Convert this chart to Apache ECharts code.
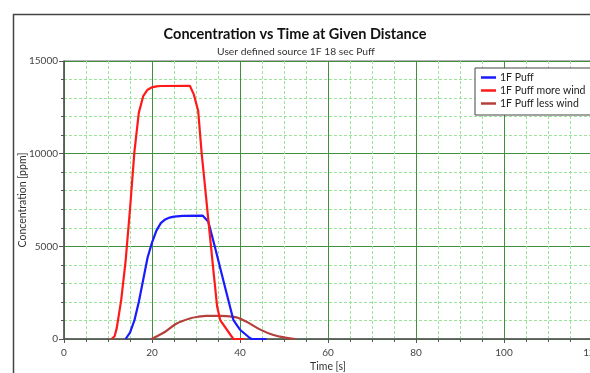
<!DOCTYPE html>
<html>
<head>
<meta charset="utf-8">
<script src="https://cdn.jsdelivr.net/npm/echarts@6/dist/echarts.min.js"></script>
<style>
  html, body { margin: 0; padding: 0; background: #fff; }
  #chart { width: 590px; height: 373px; }
</style>
</head>
<body>
<div id="chart"></div>
<script>
// 1F Puff (blue)
const puffTime = [14, 15, 16, 17, 18, 19, 20, 21, 22, 23, 24, 25, 27, 31.5, 32.8, 34.3, 36.2, 38.5, 40, 41.9, 42.6, 46]
const puffConc = [0, 350, 1000, 2000, 3200, 4400, 5200, 5850, 6250, 6450, 6550, 6600, 6640, 6660, 6330, 4960, 3170, 1020, 500, 120, 0, 0]

// 1F Puff more wind (red)
const moreTime = [10.8, 11.5, 12, 13, 14, 15, 16, 17, 18, 19, 20, 21, 22, 28.6, 29.5, 30.5, 31.3, 32, 33, 34, 34.8, 35.5, 38.5, 41]
const moreConc = [0, 150, 600, 2100, 4200, 7000, 10100, 12200, 13100, 13450, 13580, 13630, 13650, 13660, 13200, 12300, 9980, 8350, 5950, 3600, 1750, 1020, 0, 0]

// 1F Puff less wind (dark red)
const lessTime = [19.9, 21, 23, 25.6, 28.6, 30.5, 32.4, 35.5, 37, 39.2, 41.5, 44.5, 47.6, 50.6, 52.5]
const lessConc = [0, 130, 390, 840, 1110, 1200, 1250, 1250, 1230, 1170, 930, 520, 215, 60, 0]

const seriesNames = ['1F Puff', '1F Puff more wind', '1F Puff less wind']
const seriesColors = ['#1a1aff', '#ff1a1a', '#b4403c']

const xTicks = { min: 0, max: 120, interval: 20 }
const yTicks = { min: 0, max: 15000, interval: 5000 }

const pairs = (ts, cs) => ts.map((t, i) => [t, cs[i]])

const chart = echarts.init(document.getElementById('chart'))

const fontFamily = 'Lato, "Open Sans", sans-serif'

chart.setOption({
  animation: false,
  textStyle: { fontFamily },
  title: [
    {
      text: 'Concentration vs Time at Given Distance',
      left: 290,
      top: 22,
      textAlign: 'center',
      textStyle: { fontSize: 14.5, fontWeight: 'bold', color: '#111', fontFamily },
    },
    {
      text: 'User defined source 1F 18 sec Puff',
      left: 291,
      top: 42,
      textAlign: 'center',
      textStyle: { fontSize: 10.3, fontWeight: 'normal', color: '#333', fontFamily },
    },
  ],
  graphic: [
    {
      type: 'rect',
      left: 11,
      top: 12,
      shape: { width: 620, height: 400 },
      style: { fill: 'none', stroke: '#444', lineWidth: 1.5 },
      silent: true,
    },
  ],
  legend: {
    data: seriesNames,
    orient: 'vertical',
    left: 475,
    top: 68,
    icon: 'rect',
    itemWidth: 15,
    itemHeight: 2.5,
    itemGap: 2,
    padding: [4, 7, 6, 6],
    borderColor: '#444',
    borderWidth: 1,
    backgroundColor: '#fff',
    textStyle: { fontSize: 10.5, color: '#222', fontFamily, padding: [0, 0, 0, -1] },
  },
  grid: {
    left: 64,
    top: 61,
    width: 528,
    height: 278,
    outerBoundsMode: 'none',
    show: true,
    backgroundColor: '#fff',
    borderColor: '#666',
    borderWidth: 1,
  },
  xAxis: {
    type: 'value',
    min: xTicks.min,
    max: xTicks.max,
    interval: xTicks.interval,
    name: 'Time [s]',
    nameLocation: 'middle',
    nameGap: 22,
    nameMoveOverlap: false,
    nameTextStyle: { fontSize: 10.5, color: '#333' },
    axisLine: { show: true, lineStyle: { color: '#555', width: 1.5 } },
    axisTick: { show: true, length: 4, lineStyle: { color: '#555' } },
    minorTick: { show: true, splitNumber: 4, length: 3, lineStyle: { color: '#555' } },
    axisLabel: { fontSize: 10, color: '#444', margin: 9 },
    splitLine: { show: true, lineStyle: { color: '#3f8f3f', width: 1 } },
    minorSplitLine: { show: true, lineStyle: { color: '#9be39b', width: 1, type: [3, 2] } },
  },
  yAxis: {
    type: 'value',
    min: yTicks.min,
    max: yTicks.max,
    interval: yTicks.interval,
    name: 'Concentration [ppm]',
    nameLocation: 'middle',
    nameGap: 36,
    nameMoveOverlap: false,
    nameTextStyle: { fontSize: 10.5, color: '#333' },
    axisLine: { show: true, lineStyle: { color: '#555', width: 1.5 } },
    axisTick: { show: true, length: 5, lineStyle: { color: '#555' } },
    minorTick: { show: true, splitNumber: 5, length: 3, lineStyle: { color: '#555' } },
    axisLabel: { fontSize: 10, color: '#444', margin: 6, formatter: (v) => String(v) },
    splitLine: { show: true, lineStyle: { color: '#3f8f3f', width: 1 } },
    minorSplitLine: { show: true, lineStyle: { color: '#9be39b', width: 1, type: [3, 2] } },
  },
  series: [
    {
      name: seriesNames[0],
      type: 'line',
      data: pairs(puffTime, puffConc),
      showSymbol: false,
      symbol: 'none',
      smooth: false,
      lineStyle: { color: seriesColors[0], width: 2.2 },
      itemStyle: { color: seriesColors[0] },
      z: 3,
    },
    {
      name: seriesNames[1],
      type: 'line',
      data: pairs(moreTime, moreConc),
      showSymbol: false,
      symbol: 'none',
      smooth: false,
      lineStyle: { color: seriesColors[1], width: 2.2 },
      itemStyle: { color: seriesColors[1] },
      z: 4,
    },
    {
      name: seriesNames[2],
      type: 'line',
      data: pairs(lessTime, lessConc),
      showSymbol: false,
      symbol: 'none',
      smooth: 0.3,
      lineStyle: { color: seriesColors[2], width: 2.2 },
      itemStyle: { color: seriesColors[2] },
      z: 2,
    },
  ],
})
</script>
</body>
</html>
